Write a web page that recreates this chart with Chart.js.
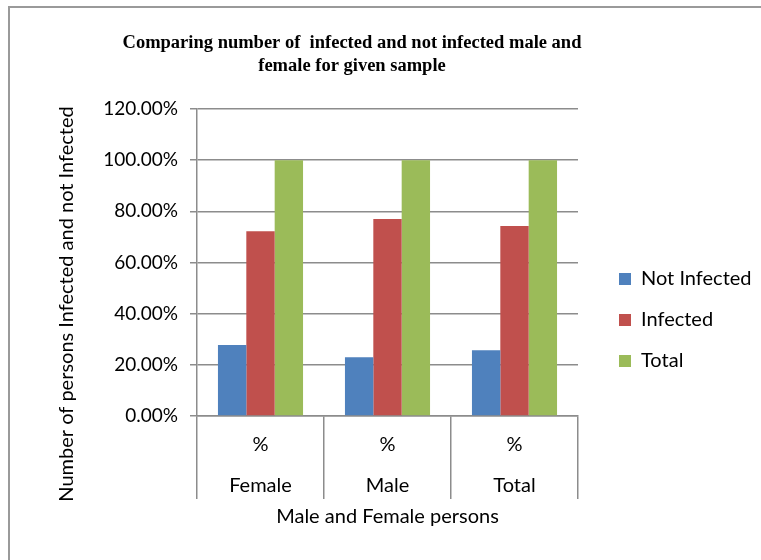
<!DOCTYPE html>
<html>
<head>
<meta charset="utf-8">
<script src="https://cdn.jsdelivr.net/npm/chart.js@4/dist/chart.umd.min.js"></script>
<style>
  html, body { margin: 0; padding: 0; background: #fff; overflow: hidden; }
  .frame { position: absolute; left: 8px; top: 6px; width: 800px; height: 600px; border-left: 2px solid #9a9a9a; border-top: 2px solid #9a9a9a; }
  .wrap { position: absolute; left: 0; top: 0; width: 761px; height: 560px; }
</style>
</head>
<body>
<div class="frame"></div>
<div class="wrap"><canvas id="chart"></canvas></div>
<script>
const categories = ['Female', 'Male', 'Total'];
const unitRow = '%';
const notInfected = [27.8, 23.0, 25.7];
const infected = [72.2, 77.0, 74.3];
const total = [100, 100, 100];
const yTicks = [0, 20, 40, 60, 80, 100, 120];

const chartTitle = ['Comparing number of  infected and not infected male and', 'female for given sample'];
const xTitle = 'Male and Female persons';
const yTitle = 'Number of persons Infected and not Infected';
const seriesNames = ['Not Infected', 'Infected', 'Total'];

const GRID = '#8c8c8c';
const TEXT = '#000';
const SANS = 'Lato';
const LEGEND_SIZE = 20;
const LEGEND_PAD = 21;

// legend box has to hold its widest label, so size the right padding from it
const measureCtx = document.createElement('canvas').getContext('2d');
measureCtx.font = `${LEGEND_SIZE}px ${SANS}`;
const widestLabel = Math.max(...seriesNames.map((s) => measureCtx.measureText(s).width));
const legendLeft = 598;
const padRight = 761 - (legendLeft + LEGEND_PAD + 12 + LEGEND_SIZE / 2 + widestLabel + 10);
const padLeft = padRight - 57; // keeps the title centred where the original has it

// draws the y title centred on plot + category rows, like the original
const yTitlePlugin = {
  id: 'yTitle',
  afterDraw(chart) {
    const { ctx, chartArea } = chart;
    const xScale = chart.scales.x;
    const top = chartArea.top;
    const bottom = xScale.top + xScale.options.grid.tickLength;
    ctx.save();
    ctx.translate(67, (top + bottom) / 2);
    ctx.rotate(-Math.PI / 2);
    ctx.font = `20px ${SANS}`;
    ctx.fillStyle = TEXT;
    ctx.textAlign = 'center';
    ctx.textBaseline = 'middle';
    ctx.fillText(yTitle, 0, 0);
    ctx.restore();
  }
};

new Chart(document.getElementById('chart'), {
  type: 'bar',
  data: {
    labels: categories.map((c) => [unitRow, '', c]),
    datasets: [
      createDataset(seriesNames[0], notInfected, '#4f81bd'),
      createDataset(seriesNames[1], infected, '#c0504d'),
      createDataset(seriesNames[2], total, '#9bbb59')
    ]
  },
  options: {
    responsive: true,
    maintainAspectRatio: false,
    animation: false,
    layout: { padding: { left: padLeft, right: padRight, top: 0, bottom: 0 } },
    plugins: {
      title: {
        display: true,
        text: chartTitle,
        color: TEXT,
        font: { family: 'Liberation Serif', size: 18.5, weight: 'bold', lineHeight: 23 / 18.5 },
        padding: { top: 31.5, bottom: 31.5 }
      },
      legend: {
        position: 'right',
        title: { display: true, text: '', padding: { top: 70, bottom: 0 }, font: { size: 10, lineHeight: 1 } },
        labels: {
          boxWidth: 12,
          boxHeight: 12,
          padding: LEGEND_PAD,
          color: TEXT,
          font: { family: SANS, size: LEGEND_SIZE, lineHeight: 1 }
        }
      },
      tooltip: { enabled: false }
    },
    scales: {
      x: {
        grid: { drawOnChartArea: false, tickLength: 83, color: GRID, lineWidth: 1.5 },
        border: { color: GRID, width: 1.5 },
        ticks: {
          color: TEXT,
          padding: -65,
          font: { family: SANS, size: 20, lineHeight: 1.025 }
        },
        title: {
          display: true,
          text: xTitle,
          color: TEXT,
          font: { family: SANS, size: 20 },
          padding: { top: 0, bottom: 31 }
        },
        afterFit: (scale) => { scale.height = 144; }
      },
      y: {
        min: yTicks[0],
        max: yTicks[yTicks.length - 1],
        afterBuildTicks: (scale) => { scale.ticks = yTicks.map((v) => ({ value: v })); },
        grid: { color: GRID, lineWidth: 1.5, tickLength: 7 },
        border: { color: GRID, width: 1.5 },
        ticks: {
          color: TEXT,
          padding: 12,
          font: { family: SANS, size: 19 },
          callback: (v) => `${Number(v).toFixed(2)}%`
        },
        afterFit: (scale) => { scale.width = 197 - padLeft; }
      },
      // hidden spacer between plot and legend
      gap: {
        position: 'right',
        display: false,
        afterFit: (scale) => { scale.width = legendLeft - 578; }
      }
    }
  },
  plugins: [yTitlePlugin]
});

function createDataset(label, data, color) {
  return {
    label,
    data,
    backgroundColor: color,
    borderWidth: 0,
    barPercentage: 1,
    categoryPercentage: 0.67
  };
}
</script>
</body>
</html>
